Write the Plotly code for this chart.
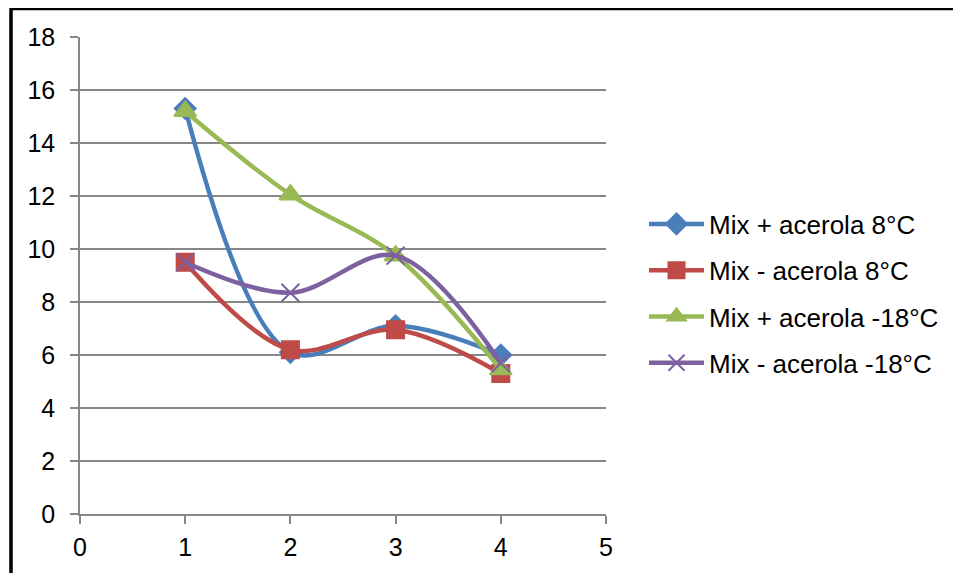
import plotly.graph_objects as go

x_vals = [1, 2, 3, 4]
series_names = ["Mix + acerola 8°C", "Mix - acerola 8°C", "Mix + acerola -18°C", "Mix - acerola -18°C"]
blue_vals = [15.3, 6.1, 7.1, 6.0]
red_vals = [9.5, 6.2, 6.95, 5.3]
green_vals = [15.2, 12.05, 9.75, 5.45]
purple_vals = [9.5, 8.35, 9.75, 5.7]
x_ticks = [0, 1, 2, 3, 4, 5]
y_ticks = [0, 2, 4, 6, 8, 10, 12, 14, 16, 18]

colors = ["#4A7EBB", "#BE4B48", "#98B954", "#7D60A0"]
symbols = ["diamond", "square", "triangle-up", "x-thin-open"]
msizes = [16, 17, 19, 18]
all_vals = [blue_vals, red_vals, green_vals, purple_vals]

# page has 8px body offset; plot area target in screenshot: x 80..606, y 37..514
OFF = 8
L, R, T, B = 80, 606, 37, 514
W, H = 961, 573

fig = go.Figure()
for i, (name, vals) in enumerate(zip(series_names, all_vals)):
    fig.add_trace(go.Scatter(
        x=x_vals, y=vals, name=name, mode="lines+markers",
        legendgroup=f"g{i}",
        line=dict(color=colors[i], width=4.5, shape="spline", smoothing=1),
        marker=dict(symbol=symbols[i], size=msizes[i], color=colors[i],
                    line=dict(color=colors[i], width=2)),
    ))

pw = R - L
ph = B - T
fig.update_layout(
    width=W, height=H,
    margin=dict(l=L - OFF, r=W - R + OFF, t=T - OFF, b=H - B + OFF),
    paper_bgcolor="white", plot_bgcolor="white",
    font=dict(family="Liberation Sans, Arial, sans-serif", color="black", size=25),
    showlegend=True,
    legend=dict(x=(644 - L) / pw, y=(B - 293.5) / ph, xanchor="left", yanchor="middle",
                font=dict(size=26), itemwidth=55, tracegroupgap=9.5,
                bgcolor="rgba(0,0,0,0)"),
    shapes=[dict(type="rect", xref="paper", yref="paper",
                 x0=(11 - L) / pw, x1=(990 - L) / pw,
                 y0=(B - 620) / ph, y1=(B - 8.5) / ph,
                 line=dict(color="black", width=3.5))],
)
fig.update_xaxes(range=[0, 5], tickvals=x_ticks, showgrid=False,
                 showline=True, linecolor="#878787", linewidth=1.5,
                 ticks="outside", ticklen=8, tickcolor="#878787", tickwidth=1.5,
                 tickfont=dict(size=25), zeroline=False, ticklabelstandoff=2)
fig.update_yaxes(range=[0, 18], tickvals=y_ticks, showgrid=True,
                 gridcolor="#878787", gridwidth=1.5,
                 showline=True, linecolor="#878787", linewidth=1.5,
                 ticks="outside", ticklen=8, tickcolor="#878787", tickwidth=1.5,
                 tickfont=dict(size=25), zeroline=False, ticklabelstandoff=10)

fig.write_html("out.html")
